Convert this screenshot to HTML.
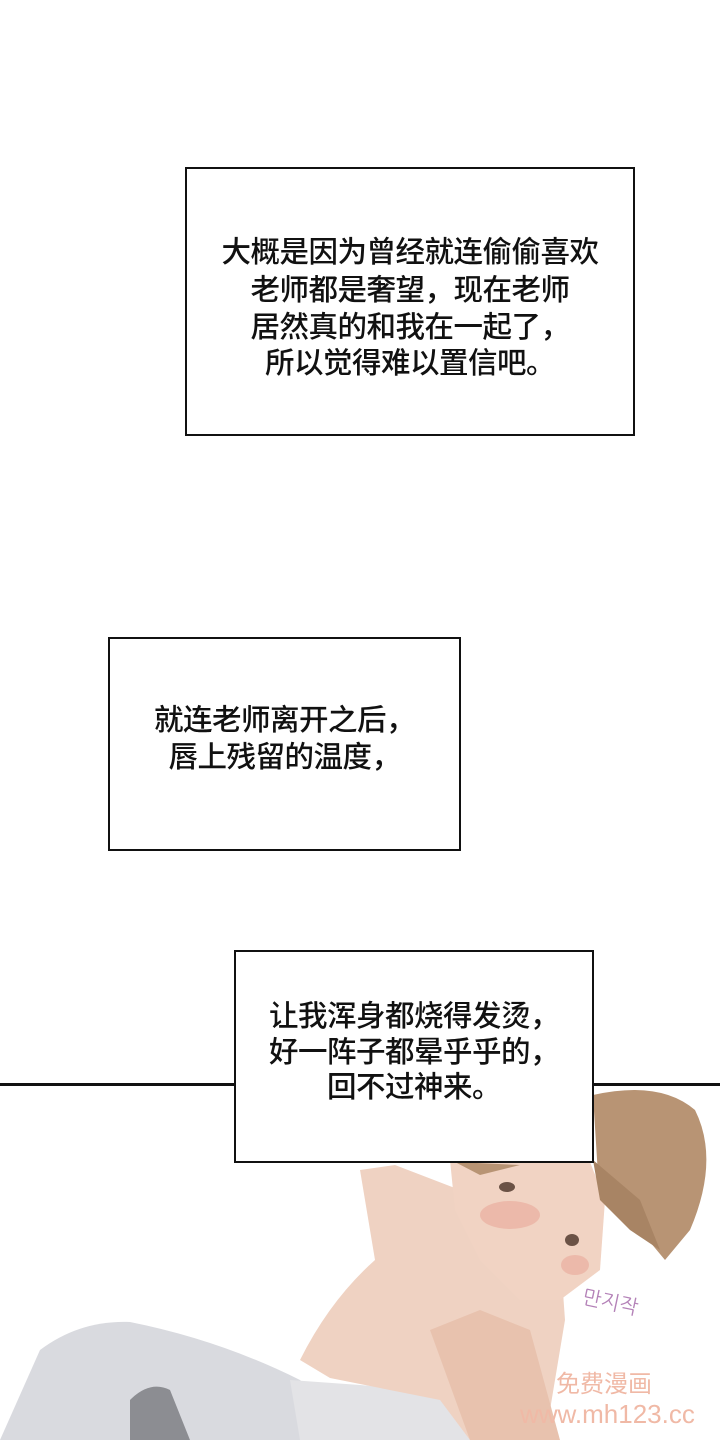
<!DOCTYPE html>
<html><head><meta charset="utf-8"><style>
body{margin:0;background:#fff}
#p{position:relative;width:720px;height:1440px;overflow:hidden;background:#fff;font-family:"Liberation Sans","Noto Sans CJK SC",sans-serif}
.box{position:absolute;border:2px solid #111;background:#fff;box-sizing:border-box}
.t{position:absolute;left:0;right:0;text-align:center;font-size:29.5px;line-height:36px;color:#111;font-weight:500;white-space:nowrap;letter-spacing:-0.5px}
</style></head><body><div id="p">
<svg width="720" height="1440" style="position:absolute;left:0;top:0">
<rect x="0" y="1083" width="720" height="3" fill="#111"/>
<path d="M0 1440 L40 1350 Q80 1320 130 1322 Q220 1340 300 1380 L360 1440 Z" fill="#d9dadf"/>
<path d="M290 1380 L300 1440 L480 1440 L470 1400 Q420 1390 360 1385 Z" fill="#e3e3e6"/>
<path d="M130 1480 L130 1400 Q150 1380 170 1390 L190 1440 Z" fill="#8c8d92"/>
<path d="M360 1170 L395 1165 L460 1190 L560 1250 L565 1320 L545 1440 L470 1440 L440 1400 L330 1378 L300 1360 Q330 1300 375 1260 Z" fill="#efd2c2"/>
<path d="M430 1330 L480 1310 L530 1330 L560 1440 L470 1440 Z" fill="#e8c2ae"/>
<path d="M450 1160 L590 1162 L605 1200 L600 1270 L560 1300 L520 1300 L480 1260 L455 1210 Z" fill="#f1d3c3"/>
<ellipse cx="510" cy="1215" rx="30" ry="14" fill="#e9a99a" opacity="0.6"/>
<ellipse cx="575" cy="1265" rx="14" ry="10" fill="#e9a99a" opacity="0.6"/>
<ellipse cx="507" cy="1187" rx="8" ry="5" fill="#6b5246"/>
<ellipse cx="572" cy="1240" rx="7" ry="6" fill="#6b5246"/>
<path d="M593 1095 Q660 1080 695 1110 Q720 1160 690 1230 L665 1260 L640 1230 L620 1190 L598 1175 Z" fill="#b89474"/>
<path d="M593 1160 L640 1200 L660 1250 L630 1230 L600 1200 Z" fill="#a88464"/>
<path d="M455 1162 L520 1165 L480 1175 Z" fill="#b89474"/>
</svg>
<div class="box" style="left:185px;top:167px;width:450px;height:269px">
<div class="t" style="top:66px">大概是因为曾经就连偷偷喜欢</div>
<div class="t" style="top:104px">老师都是奢望，现在老师</div>
<div class="t" style="top:141px">居然真的和我在一起了，</div>
<div class="t" style="top:177px">所以觉得难以置信吧。</div>
</div>
<div class="box" style="left:108px;top:637px;width:353px;height:214px">
<div class="t" style="top:64px">就连老师离开之后，</div>
<div class="t" style="top:101px">唇上残留的温度，</div>
</div>
<div class="box" style="left:234px;top:950px;width:360px;height:213px">
<div class="t" style="top:47px">让我浑身都烧得发烫，</div>
<div class="t" style="top:83px">好一阵子都晕乎乎的，</div>
<div class="t" style="top:118px">回不过神来。</div>
</div>
<div style="position:absolute;left:582px;top:1290px;color:#b482b8;font-size:20px;font-family:'NanumGothic',sans-serif;transform:rotate(12deg)">만지작</div>
<div style="position:absolute;left:556px;top:1372px;color:#f0b9a6;font-size:24px;line-height:26px">免费漫画</div>
<div style="position:absolute;left:520px;top:1400px;color:#f0b9a6;font-size:26px;line-height:28px">www.mh123.cc</div>
</div></body></html>
